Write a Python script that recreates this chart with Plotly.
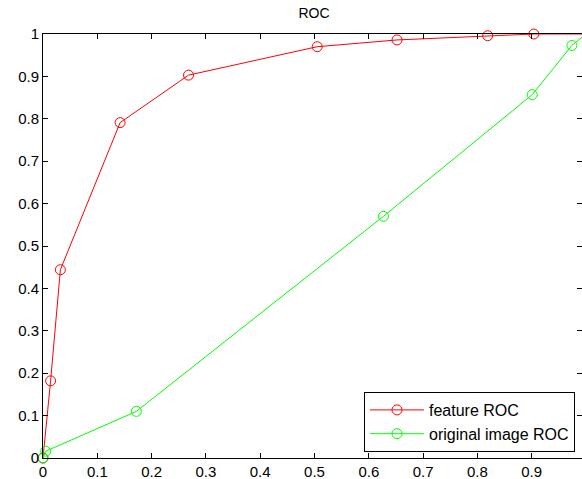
import plotly.graph_objects as go

# Data
feature_fpr = [0.0, 0.014, 0.032, 0.142, 0.268, 0.505, 0.652, 0.819, 0.904, 1.0]
feature_tpr = [0.0, 0.182, 0.444, 0.791, 0.903, 0.970, 0.986, 0.996, 1.0, 1.0]
orig_fpr = [0.0, 0.005, 0.172, 0.627, 0.901, 0.974, 1.0]
orig_tpr = [0.0, 0.016, 0.110, 0.570, 0.857, 0.973, 1.0]
tick_vals = [0, 0.1, 0.2, 0.3, 0.4, 0.5, 0.6, 0.7, 0.8, 0.9, 1.0]
tick_text = ["0", "0.1", "0.2", "0.3", "0.4", "0.5", "0.6", "0.7", "0.8", "0.9", "1"]

W, H = 582, 479
L, R, T, B = 43, 0, 34, 21
plot_w = W - L - R
x_max = plot_w / 543.0  # the axis extends a bit past the picture's right edge

FONT = "Liberation Sans, Arial, sans-serif"

fig = go.Figure()
fig.add_trace(go.Scatter(
    x=feature_fpr, y=feature_tpr, mode="lines+markers", name="feature ROC",
    line=dict(color="#ff0000", width=1),
    marker=dict(symbol="circle-open", size=10, color="#ff0000", line=dict(width=1)),
    cliponaxis=False,
))
fig.add_trace(go.Scatter(
    x=orig_fpr, y=orig_tpr, mode="lines+markers", name="original image ROC",
    line=dict(color="#00ff00", width=1),
    marker=dict(symbol="circle-open", size=10, color="#00ff00", line=dict(width=1)),
    cliponaxis=False,
))
# helper trace so the right-hand tick axis is drawn
fig.add_trace(go.Scatter(x=[None], y=[None], yaxis="y2", showlegend=False, hoverinfo="skip"))

fig.update_layout(
    width=W, height=H,
    margin=dict(l=L, r=R, t=T, b=B, autoexpand=False),
    paper_bgcolor="white", plot_bgcolor="white",
    font=dict(family=FONT, size=15, color="black"),
    title=dict(text="ROC", x=(314 - L) / plot_w, xref="paper", xanchor="center",
               y=1 - 13 / H, yanchor="middle", font=dict(size=14, family=FONT, color="black")),
    xaxis=dict(range=[0, x_max], tickvals=tick_vals, ticktext=tick_text,
               showgrid=False, zeroline=False, showline=True, linecolor="black", linewidth=1,
               mirror="ticks", ticks="inside", ticklen=5, tickcolor="black",
               tickfont=dict(size=15, family=FONT), fixedrange=True),
    yaxis=dict(range=[0, 1], tickvals=tick_vals, ticktext=tick_text,
               showgrid=False, zeroline=False, showline=True, linecolor="black", linewidth=1,
               ticks="inside", ticklen=5, tickcolor="black",
               tickfont=dict(size=15, family=FONT), fixedrange=True),
    yaxis2=dict(range=[0, 1], tickvals=tick_vals, overlaying="y", side="right",
                showgrid=False, zeroline=False, showline=False, showticklabels=False,
                ticks="inside", ticklen=5, tickcolor="black", fixedrange=True),
    legend=dict(x=(575 - L) / plot_w, y=(458 - 452) / 424, xanchor="right", yanchor="bottom",
                bgcolor="white", bordercolor="black", borderwidth=1,
                font=dict(size=16, family=FONT), itemwidth=54,
                tracegroupgap=0),
    showlegend=True,
)

fig.write_html(
    "out.html",
    config={"displayModeBar": False, "staticPlot": True},
    post_script="document.body.style.margin='0';document.body.style.padding='0';"
                "document.body.style.overflow='hidden';",
)
